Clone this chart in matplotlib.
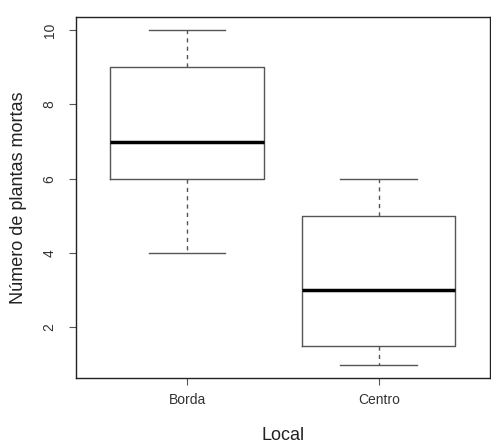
import matplotlib.pyplot as plt

plt.rcParams['font.family'] = ['Liberation Sans', 'DejaVu Sans']

# box summary per group: min, Q1, median, Q3, max
locais = ['Borda', 'Centro']
minimos = [4, 1]
q1 = [6, 1.5]
medianas = [7, 3]
q3 = [9, 5]
maximos = [10, 6]

stats = []
for nome, lo, a, m, b, hi in zip(locais, minimos, q1, medianas, q3, maximos):
    stats.append({'label': nome, 'whislo': lo, 'q1': a, 'med': m,
                  'q3': b, 'whishi': hi, 'fliers': []})

fig = plt.figure(figsize=(4.91, 4.44), dpi=100)
ax = fig.add_axes([0.1548, 0.1486, 0.843, 0.8138])

cinza = '#555555'
ax.bxp(stats, positions=[1, 2], widths=0.8, showfliers=False,
       boxprops=dict(color=cinza, linewidth=1),
       whiskerprops=dict(color=cinza, linewidth=1, linestyle=(0, (3, 3))),
       capprops=dict(color=cinza, linewidth=1),
       medianprops=dict(color='black', linewidth=2.5),
       capwidths=0.4)

ax.set_xlim(0.42, 2.58)
ax.set_ylim(0.64, 10.36)
ax.set_yticks([2, 4, 6, 8, 10])
ax.set_xticks([1, 2])
ax.set_xticklabels(locais)

for s in ax.spines.values():
    s.set_color('#222222')
    s.set_linewidth(1)

ax.tick_params(axis='both', colors=cinza, labelcolor='#333333',
               length=5, labelsize=10)
ax.tick_params(axis='x', pad=6)
ax.tick_params(axis='y', pad=9)
for t in ax.get_yticklabels():
    t.set_rotation(90)
    t.set_va('center')

ax.set_xlabel('Local', fontsize=13, color='#222222')
ax.set_ylabel('Número de plantas mortas', fontsize=13, color='#222222')
ax.xaxis.set_label_coords(0.5, -0.16)
ax.xaxis.label.set_va('center')
ax.yaxis.set_label_coords(-0.14, 0.5)
ax.yaxis.label.set_va('center')

fig.savefig('out.png', dpi=100)
